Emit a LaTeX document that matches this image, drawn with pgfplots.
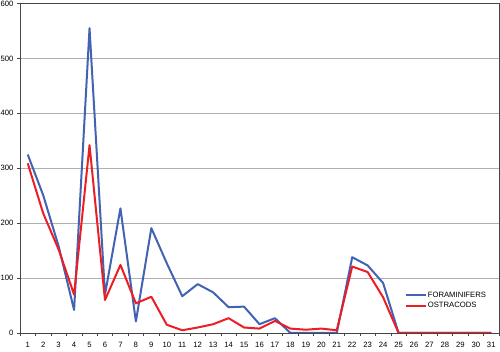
\documentclass[border=0pt]{standalone}
\usepackage{fontspec}
\setmainfont{Liberation Sans}
\usepackage{pgfplots}
\pgfplotsset{compat=1.18}
\definecolor{foram}{RGB}{66,98,178}
\definecolor{ostra}{RGB}{236,30,36}
\definecolor{frame}{RGB}{70,70,70}
\definecolor{gridc}{RGB}{175,175,175}
\begin{document}
\begin{tikzpicture}
\begin{axis}[
  at={(0pt,0pt)}, anchor=south west,
  scale only axis, width=479pt, height=329.5pt,
  xmin=0.5, xmax=31.5, ymin=0, ymax=600,
  axis line style={frame, line width=0.8pt},
  ytick={0,100,...,600},
  ymajorgrids, grid style={gridc, line width=0.6pt},
  xtick={0.5,1.5,...,31.5}, xticklabels={},
  extra x ticks={1,...,31},
  extra x tick style={major tick length=0pt, grid=none,
    xticklabel style={yshift=-6pt}},
  tick align=outside, major tick length=3pt,
  tick style={frame, line width=0.6pt},
  xtick pos=bottom, ytick pos=left,
  /pgf/number format/assume math mode=true,
  ticklabel style={font=\fontsize{7.7}{9}\selectfont, text=black},
  legend style={at={(0.803,0.128)}, anchor=north west, draw=none, fill=none,
    font=\fontsize{7.7}{9}\selectfont, inner sep=0pt, row sep=1.5pt,
    nodes={inner sep=1pt}},
  legend cell align=left,
  legend image code/.code={\draw[#1] (0pt,0pt) -- (20pt,0pt);},
]
\addplot[foram, line width=2pt, line join=round] coordinates {
(1,325) (2,251) (3,158) (4,42) (5,555) (6,70) (7,227) (8,21) (9,191) (10,127)
(11,67) (12,89) (13,74) (14,47) (15,48) (16,16) (17,27) (18,0) (19,0) (20,0)
(21,0) (22,138) (23,123) (24,91) (25,0) (26,0) (27,0) (28,0) (29,0) (30,0) (31,0)};
\addlegendentry{FORAMINIFERS}
\addplot[ostra, line width=2pt, line join=round] coordinates {
(1,309) (2,218) (3,152) (4,70) (5,342) (6,60) (7,124) (8,54) (9,66) (10,15)
(11,5) (12,10) (13,16) (14,27) (15,10) (16,8) (17,22) (18,8) (19,6) (20,8)
(21,5) (22,121) (23,111) (24,65) (25,0) (26,0) (27,0) (28,0) (29,0) (30,0) (31,0)};
\addlegendentry{OSTRACODS}
\end{axis}
\pgfresetboundingbox
\path (-20pt,-19pt) rectangle (480pt,333pt);
\end{tikzpicture}
\end{document}
